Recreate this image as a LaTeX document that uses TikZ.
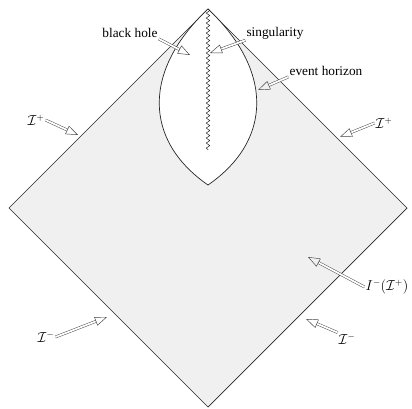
\documentclass[tikz,border=0pt]{standalone}
\usepackage{fontspec}
\setmainfont{Liberation Serif}
\usetikzlibrary{arrows.meta,decorations.pathmorphing}

\begin{document}
\begin{tikzpicture}[
  x=1pt, y=-1pt,
  lbl/.style={font=\fontsize{13.3}{15}\selectfont, inner sep=1pt},
  hollow/.style={draw=black!75, line width=0.45pt, double=white, double distance=1.8pt,
                 -{Triangle[open, length=12pt, width=9pt, line width=0.45pt]}},
  region/.style={draw=black!85, line width=0.7pt, fill=black!6},
  hole/.style={draw=black!85, line width=0.7pt, fill=white},
  sing/.style={draw=black!85, line width=0.5pt,
               decorate, decoration={snake, amplitude=1.8pt, segment length=5pt}}
]
  \useasboundingbox (0,0) rectangle (412,409);

  % Penrose diagram
  \coordinate (top) at (208,9);
  \coordinate (west) at (9,208);
  \coordinate (bottom) at (208,407);
  \coordinate (east) at (407,208);
  \coordinate (lens) at (208,185);
  \draw[region] (top) -- (west) -- (bottom) -- (east) -- cycle;
  \draw[hole] (top) .. controls (143,70) and (143,140) .. (lens)
              .. controls (273,140) and (273,70) .. (top) -- cycle;
  \coordinate (singend) at (208,150);
  \draw[sing] (top) -- (singend);

  % labels
  \node[lbl] (bh) at (130,33) {black hole};
  \node[lbl] (sg) at (275,33) {singularity};
  \node[lbl] (eh) at (326,71) {event horizon};
  \node[lbl] (ipl) at (36,120) {$\mathcal{I}^+$};
  \node[lbl] (ipr) at (384,123) {$\mathcal{I}^+$};
  \node[lbl] (iml) at (46,337) {$\mathcal{I}^-$};
  \node[lbl] (imr) at (347,339) {$\mathcal{I}^-$};
  \node[lbl] (past) at (387,287) {$I^-(\mathcal{I}^+)$};

  % arrow tips
  \coordinate (bhtip) at (190,55);
  \coordinate (sgtip) at (210,53);
  \coordinate (ehtip) at (258,90);
  \coordinate (ipltip) at (78,135);
  \coordinate (iprtip) at (340,137);
  \coordinate (imltip) at (107,317);
  \coordinate (imrtip) at (306,319);
  \coordinate (pasttip) at (308,257);

  \draw[hollow] (bh.south east) -- (bhtip);
  \draw[hollow] (sg.south west) -- (sgtip);
  \draw[hollow] (eh.south west) -- (ehtip);
  \draw[hollow] (ipl.east) -- (ipltip);
  \draw[hollow] (ipr.west) -- (iprtip);
  \draw[hollow] (iml.east) -- (imltip);
  \draw[hollow] (imr.north west) -- (imrtip);
  \draw[hollow] (past.west) -- (pasttip);
\end{tikzpicture}
\end{document}
